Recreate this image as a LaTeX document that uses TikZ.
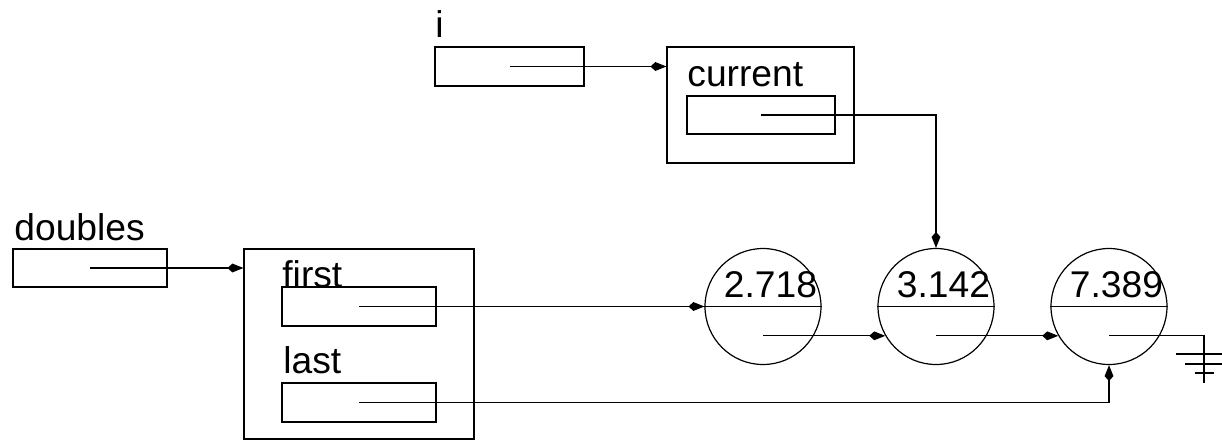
\documentclass[tikz,border=0pt]{standalone}
\usepackage{fontspec}
\setmainfont{Liberation Sans}
\usetikzlibrary{positioning, arrows.meta, calc}

\begin{document}
\begin{tikzpicture}[
    x=0.5pt, y=-0.5pt,
    lbl/.style={inner sep=0pt, anchor=base west, font=\fontsize{18.6pt}{22pt}\selectfont},
    cell/.style={draw, line width=0.6pt, inner sep=0pt, minimum width=77pt, minimum height=19.5pt},
    record/.style={draw, line width=0.6pt, inner sep=0pt},
    elem/.style={draw, line width=0.6pt, circle, inner sep=0pt, minimum size=58pt},
    ptr/.style={line width=0.6pt, -{Kite[length=8pt, width=4.4pt, inset=2.5pt]}},
    nil/.style={line width=0.6pt},
]

\useasboundingbox (0,0) rectangle (1222,441);

% Iterator i
\node[lbl] (ilabel) at (435,37) {i};
\node[cell, minimum width=74.5pt] (ibox) at (509.5,66.5) {};
\node[record, minimum width=93.5pt, minimum height=58pt] (iter) at (760.5,105) {};
\node[lbl] (curlabel) at (687,86) {current};
\node[cell, minimum width=74pt, minimum height=19pt] (curbox) at (761,115) {};

% List doubles
\node[lbl] (dbllabel) at (14,240) {doubles};
\node[cell, minimum height=19pt] (dblbox) at (90,268) {};
\node[record, minimum width=115pt, minimum height=95pt] (list) at (359,344) {};
\node[lbl] (firstlabel) at (282,287) {first};
\node[cell] (firstbox) at (359,306.5) {};
\node[lbl] (lastlabel) at (283,373) {last};
\node[cell] (lastbox) at (359,402.5) {};

% List elements
\foreach \v/\x [count=\k] in {2.718/763, 3.142/936, 7.389/1109} {
    \node[elem] (c\k) at (\x,306.5) {};
    \draw[line width=0.6pt] (c\k.west) -- (c\k.east);
    \node[lbl] (v\k) at ($(c\k.center)+(-39.5,-9.5)$) {\v};
}

%% === Arrows ===
\draw[ptr] (ibox.center) -- (ibox.center -| iter.west);
\draw[ptr] (curbox.center) -| (c2.north);
\draw[ptr] (dblbox.center) -- (dblbox.center -| list.west);
\draw[ptr] (firstbox.center) -- (c1.west);
\draw[ptr] (lastbox.center) -| (c3.south);
\draw[ptr] (c1.center |- c2.210) -- (c2.210);
\draw[ptr] (c2.center |- c3.210) -- (c3.210);

% Null pointer to ground
\coordinate (gnd) at (1204,383);
\draw[nil] (c3.center |- c3.210) -| (gnd);
\draw[nil] (gnd) ++(-28,-29) -- ++(56,0);
\draw[nil] (gnd) ++(-19,-19) -- ++(38,0);
\draw[nil] (gnd) ++(-9.5,-10) -- ++(19,0);

\end{tikzpicture}
\end{document}
